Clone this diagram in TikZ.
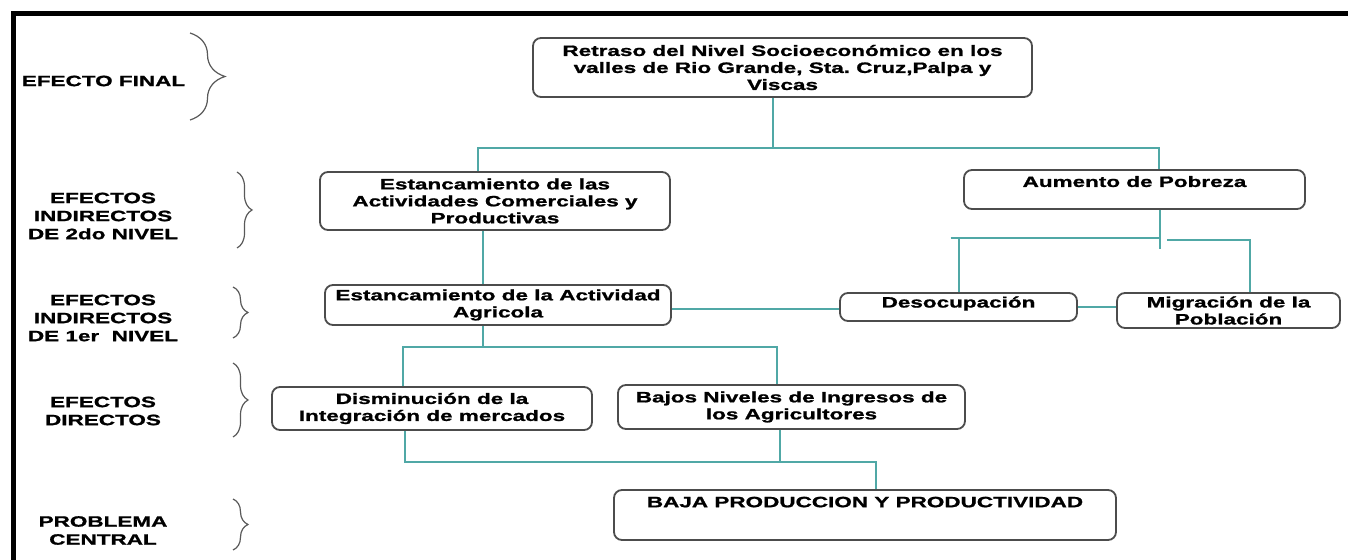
\documentclass[tikz,border=0pt]{standalone}
\usepackage{fontspec}
\setmainfont{Liberation Sans}[FakeStretch=1.5, BoldFeatures={FakeBold=1.2}]
\usetikzlibrary{decorations.pathreplacing}
\definecolor{verdeagua}{RGB}{80,168,166}

\begin{document}
\begin{tikzpicture}[x=0.5pt,y=-0.5pt,
    caja/.style={draw=black!70, line width=0.9pt, rounded corners=4pt, fill=white,
        align=center, inner sep=1pt, font=\fontsize{7.5}{8.5}\selectfont\bfseries},
    nivel/.style={align=center, font=\fontsize{7.5}{9}\selectfont\bfseries},
    conector/.style={draw=verdeagua, line width=1pt},
    llave/.style={draw=black!65, line width=0.6pt, decorate, decoration={brace, amplitude=#1}},
    llave/.default=7.5pt]

    \useasboundingbox (0,0) rectangle (1348,560);

    % frame
    \draw[line width=2.3pt] (13.5,560) |- (1348,13.5);

    % levels on the left
    \node[nivel] (lblfinal) at (103.5,81) {EFECTO FINAL};
    \draw[llave=17.5pt] (190,33) -- (190,120);

    \node[nivel] (lblind2) at (103,216) {EFECTOS\\INDIRECTOS\\DE 2do NIVEL};
    \draw[llave] (237,172) -- (237,248);

    \node[nivel] (lblind1) at (103,318) {EFECTOS\\INDIRECTOS\\DE 1er\ \ NIVEL};
    \draw[llave] (233,287) -- (233,338);

    \node[nivel] (lbldir) at (103,411) {EFECTOS\\DIRECTOS};
    \draw[llave] (233,363) -- (233,437);

    \node[nivel] (lblprob) at (103,530.5) {PROBLEMA\\CENTRAL};
    \draw[llave] (233,499) -- (233,550);

    % final effect
    \node[caja, minimum width=249.5pt, minimum height=29.5pt] (final) at (782.5,67.5)
        {Retraso del Nivel Socioeconómico en los\\valles de Rio Grande, Sta.\ Cruz,Palpa y\\Viscas};

    % indirect effects, 2nd level
    \node[caja, minimum width=175pt, minimum height=29pt] (comerc) at (495,201)
        {Estancamiento de las\\Actividades Comerciales y\\Productivas};
    \node[caja, minimum width=170.5pt, minimum height=19.5pt, text depth=8pt] (pobreza) at (1134.5,189.5)
        {Aumento de Pobreza};

    % indirect effects, 1st level
    \node[caja, minimum width=173pt, minimum height=20pt] (agricola) at (498,305)
        {Estancamiento de la Actividad\\Agricola};
    \node[caja, minimum width=118.5pt, minimum height=14pt, text depth=5pt] (desocup) at (958.5,307)
        {Desocupación};
    \node[caja, minimum width=111.5pt, minimum height=17.5pt] (migra) at (1228.5,310.5)
        {Migración de la\\Población};

    % direct effects
    \node[caja, minimum width=160pt, minimum height=21.5pt] (disminu) at (432,408.5)
        {Disminución de la\\Integración de mercados};
    \node[caja, minimum width=173.5pt, minimum height=22pt] (ingresos) at (791.5,407)
        {Bajos Niveles de Ingresos de\\los Agricultores};

    % central problem
    \node[caja, minimum width=251pt, minimum height=25pt, text depth=13pt] (baja) at (865,515)
        {BAJA PRODUCCION Y PRODUCTIVIDAD};

    % connectors
    \coordinate (n1) at (773,148);
    \draw[conector] (final.south -| n1) -- (n1);
    \draw[conector] ([xshift=-8.5pt]comerc.north) |- (n1) -| ([xshift=12.25pt]pobreza.north);

    \draw[conector] ([xshift=-6pt]comerc.south) -- ([xshift=-6pt]comerc.south |- agricola.north);

    \coordinate (n2) at (1160,238);
    \coordinate (n3) at (1167,240);
    \draw[conector] (pobreza.south -| n2) -- ([yshift=-5.5pt]n2);
    \draw[conector] ([xshift=-4pt]desocup.north |- n2) -- (n2);
    \draw[conector] (desocup.north) -- (desocup.north |- n2);
    \draw[conector] (n3) -| ([xshift=10.75pt]migra.north);

    \draw[conector] ([yshift=-2pt]agricola.east) -- ([yshift=-2pt]agricola.east -| desocup.west);
    \draw[conector] (desocup.east) -- (desocup.east -| migra.west);

    \coordinate (n4) at (483,347);
    \draw[conector] (agricola.south -| n4) -- (n4);
    \draw[conector] ([xshift=-14.5pt]disminu.north) |- (n4) -| ([xshift=-7.25pt]ingresos.north);

    \coordinate (n5) at (780,462);
    \draw[conector] ([xshift=-13.5pt]disminu.south) |- (n5) -| ([xshift=5.5pt]baja.north);
    \draw[conector] ([xshift=-5.75pt]ingresos.south) -- (n5);

\end{tikzpicture}
\end{document}
